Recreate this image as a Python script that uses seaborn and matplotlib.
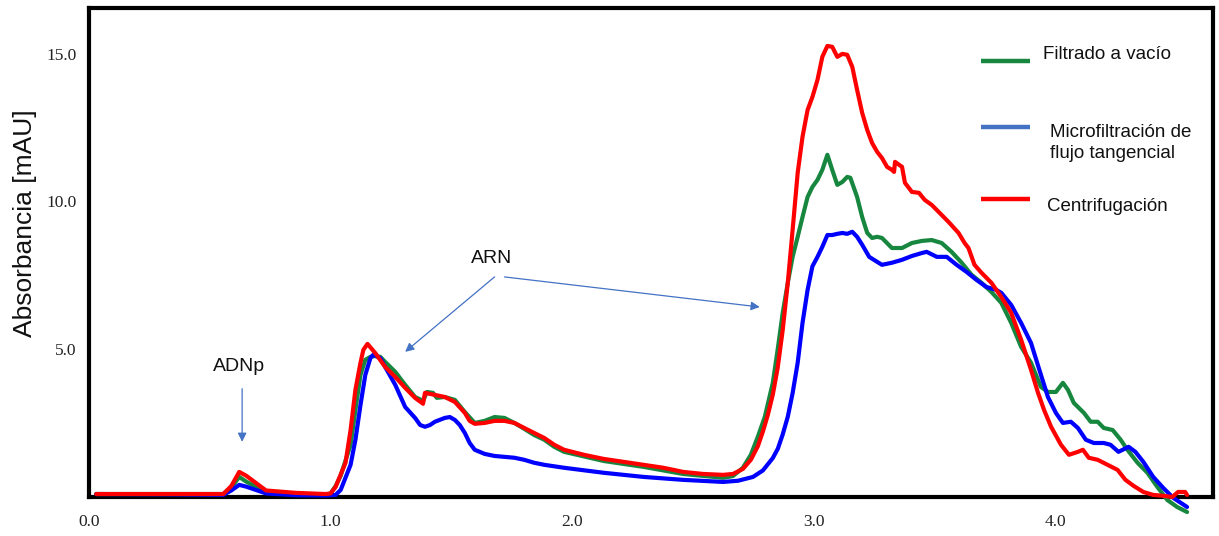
import numpy as np
import pandas as pd
import matplotlib
matplotlib.use("Agg")
import matplotlib.pyplot as plt
import seaborn as sns

# Elution time (x) and absorbance (mAU) for each clarification method
x_filtrado = [0.03, 0.30, 0.556, 0.589, 0.622, 0.651, 0.733, 0.856, 0.980, 1.000, 1.021, 1.042,
              1.083, 1.103, 1.124, 1.144, 1.165, 1.185, 1.206, 1.226, 1.268, 1.309, 1.350, 1.383,
              1.399, 1.424, 1.440, 1.473, 1.515, 1.556, 1.597, 1.638, 1.679, 1.720, 1.761, 1.802,
              1.843, 1.885, 1.926, 1.967, 2.131, 2.296, 2.460, 2.625, 2.666, 2.707, 2.740, 2.769,
              2.798, 2.831, 2.851, 2.872, 2.893, 2.913, 2.934, 2.954, 2.975, 2.995, 3.016, 3.036,
              3.057, 3.077, 3.098, 3.119, 3.139, 3.152, 3.180, 3.201, 3.222, 3.242, 3.263, 3.283,
              3.324, 3.366, 3.407, 3.448, 3.489, 3.530, 3.571, 3.613, 3.654, 3.695, 3.736, 3.777,
              3.818, 3.859, 3.900, 3.941, 3.970, 4.003, 4.032, 4.053, 4.077, 4.119, 4.147, 4.176,
              4.201, 4.238, 4.271, 4.299, 4.341, 4.382, 4.423, 4.464, 4.505, 4.546]
y_filtrado = [0.08, 0.08, 0.08, 0.30, 0.66, 0.50, 0.15, 0.06, 0.05, 0.10, 0.35, 0.70,
              1.75, 2.93, 4.12, 4.63, 4.73, 4.76, 4.73, 4.56, 4.22, 3.78, 3.37, 3.24,
              3.54, 3.51, 3.34, 3.37, 3.27, 2.86, 2.49, 2.56, 2.69, 2.66, 2.49, 2.29,
              2.08, 1.92, 1.68, 1.51, 1.20, 1.00, 0.76, 0.63, 0.69, 0.97, 1.41, 2.02,
              2.70, 3.85, 4.97, 6.22, 7.24, 8.12, 8.80, 9.47, 10.15, 10.49, 10.73, 11.07,
              11.58, 11.07, 10.56, 10.66, 10.83, 10.80, 10.15, 9.47, 8.93, 8.76, 8.80, 8.76,
              8.42, 8.42, 8.59, 8.66, 8.69, 8.59, 8.29, 7.92, 7.51, 7.24, 6.93, 6.56,
              5.88, 5.07, 4.53, 3.71, 3.54, 3.54, 3.85, 3.61, 3.17, 2.83, 2.53, 2.53,
              2.32, 2.25, 1.92, 1.58, 1.14, 0.80, 0.32, -0.12, -0.36, -0.53]

x_micro = [0.03, 0.30, 0.556, 0.589, 0.622, 0.651, 0.733, 0.856, 0.980, 1.021, 1.042, 1.083,
           1.103, 1.124, 1.144, 1.165, 1.177, 1.206, 1.226, 1.268, 1.309, 1.350, 1.371, 1.391,
           1.412, 1.432, 1.473, 1.494, 1.515, 1.535, 1.556, 1.576, 1.597, 1.638, 1.679, 1.720,
           1.761, 1.802, 1.843, 1.885, 1.967, 2.131, 2.296, 2.460, 2.625, 2.687, 2.749, 2.790,
           2.831, 2.852, 2.872, 2.893, 2.913, 2.934, 2.954, 2.975, 2.995, 3.016, 3.036, 3.057,
           3.077, 3.098, 3.119, 3.139, 3.160, 3.180, 3.201, 3.230, 3.263, 3.283, 3.324, 3.366,
           3.407, 3.448, 3.468, 3.510, 3.551, 3.592, 3.633, 3.674, 3.715, 3.756, 3.777, 3.818,
           3.859, 3.900, 3.941, 3.970, 4.003, 4.032, 4.065, 4.094, 4.127, 4.160, 4.201, 4.229,
           4.262, 4.304, 4.332, 4.365, 4.406, 4.447, 4.489, 4.546]
y_micro = [0.08, 0.07, 0.05, 0.20, 0.39, 0.33, 0.10, 0.04, 0.03, 0.05, 0.22, 1.07,
           1.92, 3.10, 4.12, 4.69, 4.80, 4.69, 4.39, 3.78, 3.03, 2.66, 2.42, 2.36,
           2.42, 2.53, 2.66, 2.69, 2.59, 2.42, 2.15, 1.81, 1.58, 1.44, 1.37, 1.34,
           1.31, 1.24, 1.14, 1.07, 0.97, 0.80, 0.66, 0.56, 0.49, 0.53, 0.66, 0.88,
           1.30, 1.62, 2.10, 2.70, 3.50, 4.53, 5.88, 7.00, 7.80, 8.12, 8.46, 8.86,
           8.86, 8.90, 8.93, 8.90, 8.97, 8.80, 8.53, 8.12, 7.95, 7.85, 7.92, 8.02,
           8.15, 8.25, 8.29, 8.12, 8.12, 7.85, 7.61, 7.34, 7.10, 7.00, 6.90, 6.49,
           5.88, 5.20, 4.12, 3.37, 2.83, 2.49, 2.53, 2.32, 1.92, 1.81, 1.81, 1.75,
           1.51, 1.68, 1.51, 1.17, 0.66, 0.29, -0.05, -0.36]

x_centri = [0.03, 0.30, 0.556, 0.589, 0.622, 0.651, 0.733, 0.856, 0.980, 1.000, 1.021, 1.062,
            1.083, 1.103, 1.124, 1.136, 1.153, 1.185, 1.226, 1.268, 1.309, 1.350, 1.383, 1.391,
            1.432, 1.473, 1.515, 1.556, 1.576, 1.597, 1.638, 1.679, 1.720, 1.761, 1.802, 1.843,
            1.885, 1.926, 1.967, 2.049, 2.131, 2.214, 2.296, 2.378, 2.460, 2.543, 2.625, 2.666,
            2.707, 2.740, 2.769, 2.790, 2.810, 2.831, 2.851, 2.872, 2.893, 2.913, 2.934, 2.954,
            2.975, 2.995, 3.016, 3.036, 3.057, 3.077, 3.098, 3.119, 3.139, 3.160, 3.180, 3.201,
            3.222, 3.242, 3.263, 3.283, 3.304, 3.324, 3.333, 3.337, 3.366, 3.378, 3.407, 3.436,
            3.460, 3.489, 3.518, 3.559, 3.600, 3.625, 3.641, 3.666, 3.695, 3.736, 3.777, 3.818,
            3.859, 3.900, 3.929, 3.954, 3.983, 4.024, 4.057, 4.094, 4.115, 4.139, 4.176, 4.217,
            4.258, 4.291, 4.324, 4.365, 4.406, 4.447, 4.485, 4.509, 4.538, 4.546]
y_centri = [0.08, 0.08, 0.08, 0.35, 0.83, 0.70, 0.20, 0.12, 0.08, 0.10, 0.32, 1.14,
            2.25, 3.61, 4.53, 4.97, 5.17, 4.86, 4.39, 4.05, 3.68, 3.34, 3.14, 3.51,
            3.44, 3.37, 3.20, 2.83, 2.56, 2.46, 2.49, 2.56, 2.56, 2.49, 2.32, 2.15,
            1.98, 1.75, 1.58, 1.41, 1.27, 1.17, 1.07, 0.97, 0.83, 0.76, 0.73, 0.76,
            0.93, 1.24, 1.70, 2.20, 2.75, 3.45, 4.35, 5.64, 7.24, 9.03, 10.97, 12.19,
            13.10, 13.54, 14.12, 14.90, 15.27, 15.24, 14.90, 15.00, 14.97, 14.56, 13.78, 13.00,
            12.42, 11.98, 11.68, 11.47, 11.17, 11.07, 11.00, 11.34, 11.17, 10.63, 10.32, 10.29,
            10.05, 9.88, 9.64, 9.30, 8.93, 8.59, 8.42, 7.85, 7.58, 7.24, 6.76, 6.22,
            5.31, 4.29, 3.51, 2.93, 2.36, 1.75, 1.41, 1.51, 1.58, 1.31, 1.24, 1.07,
            0.90, 0.56, 0.36, 0.15, 0.05, 0.02, -0.02, 0.15, 0.15, 0.05]

series_names = ["Filtrado a vacío", "Microfiltración de\nflujo tangencial", "Centrifugación"]
x_ticks = [0.0, 1.0, 2.0, 3.0, 4.0]
y_ticks = [5.0, 10.0, 15.0]

line_colors = ["#17873F", "#0000FF", "#FF0000"]
legend_colors = ["#17873F", "#4472C4", "#FF0000"]
arrow_color = "#4472C4"

sns.set_style("white")
plt.rcParams["font.family"] = ["Liberation Sans", "DejaVu Sans"]

fig = plt.figure(figsize=(12.19, 5.36), dpi=100)
ax = fig.add_axes([0.073, 0.0728, 0.922, 0.9125])

frames = []
for name, xs, ys in zip(series_names, [x_filtrado, x_micro, x_centri],
                        [y_filtrado, y_micro, y_centri]):
    frames.append(pd.DataFrame({"t": xs, "abs": ys, "method": name}))
df = pd.concat(frames, ignore_index=True)

for name, color in zip(series_names, line_colors):
    sub = df[df["method"] == name]
    sns.lineplot(data=sub, x="t", y="abs", color=color, lw=3.0, sort=False,
                 estimator=None, ax=ax, legend=False, clip_on=False, zorder=3)

ax.set_xlim(0.03, 4.653)
ax.set_ylim(-0.02, 16.56)

ax.set_xticks(x_ticks)
ax.set_xticklabels([f"{v:.1f}" for v in x_ticks], family="Liberation Serif", fontsize=12.5)
ax.set_yticks(y_ticks)
ax.set_yticklabels([f"{v:.1f}" for v in y_ticks], family="Liberation Serif", fontsize=12.5)
ax.set_yticks([2.5, 7.5, 12.5], minor=True)
ax.tick_params(axis="x", length=0, pad=12, colors="#222222")
ax.tick_params(axis="y", which="both", length=3, width=0.8, color="red", direction="out",
               pad=6, labelcolor="#222222")

for s in ax.spines.values():
    s.set_color("black")
    s.set_linewidth(3.0)
    s.set_visible(True)

ax.set_xlabel("")
ax.set_ylabel("Absorbancia [mAU]", fontsize=19, color="#111111")
ax.yaxis.set_label_coords(-0.046, 0.56)

# Custom legend
legend_y = [0.892, 0.757, 0.609]
text_pos = [(0.849, 0.904), (0.855, 0.724), (0.852, 0.593)]
for c, ly, (tx, ty), name in zip(legend_colors, legend_y, text_pos, series_names):
    ax.plot([0.794, 0.837], [ly, ly], color=c, lw=3.2, transform=ax.transAxes,
            solid_capstyle="butt")
    ax.text(tx, ty, name, transform=ax.transAxes, fontsize=13.5, va="center", ha="left",
            color="#111111", linespacing=1.35)

# Peak annotations
arrow_kw = dict(arrowstyle="-|>", color=arrow_color, lw=0.9, mutation_scale=13,
                shrinkA=0, shrinkB=0)
ax.text(0.622, 4.42, "ADNp", fontsize=14, ha="center", va="center", color="#111111")
ax.annotate("", xy=(0.634, 1.85), xytext=(0.634, 3.65), arrowprops=arrow_kw)
ax.text(1.667, 8.08, "ARN", fontsize=14, ha="center", va="center", color="#111111")
ax.annotate("", xy=(1.309, 4.90), xytext=(1.679, 7.44), arrowprops=arrow_kw)
ax.annotate("", xy=(2.777, 6.42), xytext=(1.72, 7.44), arrowprops=arrow_kw)

fig.savefig("out.png", dpi=100)
